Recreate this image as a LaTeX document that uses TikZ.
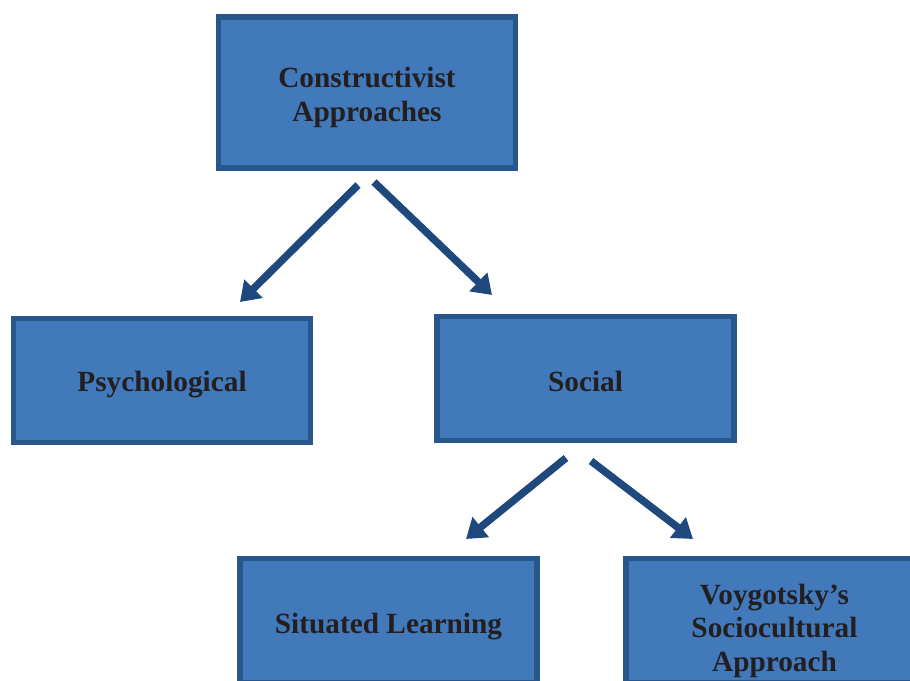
\documentclass[tikz,border=0pt]{standalone}
\usepackage{fontspec}
\setmainfont{Liberation Serif}
\usetikzlibrary{arrows.meta}
\definecolor{boxfill}{HTML}{4279BB}
\definecolor{boxline}{HTML}{28578B}
\definecolor{arrowcol}{HTML}{1F497D}
\definecolor{textcol}{HTML}{231F20}
\tikzset{
  conbox/.style={draw=boxline, fill=boxfill, line width=5.5pt, rectangle,
    inner sep=0pt, minimum width=297pt, minimum height=124pt},
  context/.style={inner sep=0pt, align=center, text=textcol,
    font=\fontsize{29.3}{33.5}\selectfont\bfseries},
  conarrow/.style={draw=arrowcol, line width=7.5pt,
    -{Triangle[length=19pt,width=25pt]}}
}
\begin{document}
\begin{tikzpicture}[x=1pt,y=-1pt]
\useasboundingbox (0,0) rectangle (910,680);
\clip (0,0) rectangle (910,680);
\node[conbox, minimum height=151pt] (top) at (367,92.5) {};
\node[conbox] (psy) at (162,380.5) {};
\node[conbox] (soc) at (585.5,378.5) {};
\node[conbox] (sit) at (388.5,620.5) {};
\node[conbox] (voy) at (774.5,620.5) {};
\node[context, yshift=-5pt] (topt) at (top) {Constructivist\\Approaches};
\node[context, yshift=-4pt] (psyt) at (psy) {Psychological};
\node[context, yshift=-3pt] (soct) at (soc) {Social};
\node[context, yshift=-6pt] (sitt) at (sit) {Situated Learning};
\node[context, yshift=-10pt] (voyt) at (voy) {Voygotsky’s\\Sociocultural\\Approach};
\coordinate (a1s) at (358,185);
\coordinate (a1e) at (240,302);
\coordinate (a2s) at (374,182);
\coordinate (a2e) at (492,295);
\coordinate (a3s) at (566,458);
\coordinate (a3e) at (466,539);
\coordinate (a4s) at (591,461);
\coordinate (a4e) at (693,539);
\draw[conarrow] (a1s) -- (a1e);
\draw[conarrow] (a2s) -- (a2e);
\draw[conarrow] (a3s) -- (a3e);
\draw[conarrow] (a4s) -- (a4e);
\end{tikzpicture}
\end{document}
